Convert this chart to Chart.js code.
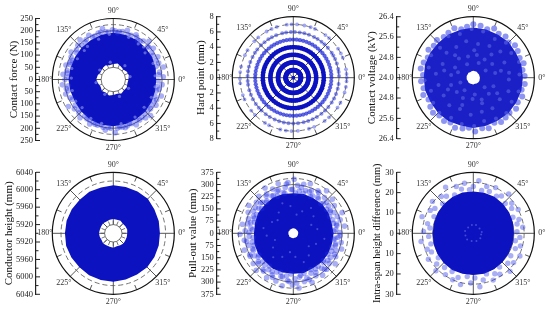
<!DOCTYPE html>
<html>
<head>
<meta charset="utf-8">
<style>
  html, body { margin: 0; padding: 0; background: #fff; width: 550px; height: 310px; overflow: hidden; }
  canvas { position: absolute; }
</style>
<script src="https://cdn.jsdelivr.net/npm/chart.js@4"></script>
</head>
<body>
<canvas id="c0" width="190" height="155" style="left:0;top:0"></canvas>
<canvas id="c1" width="190" height="155" style="left:180px;top:0"></canvas>
<canvas id="c2" width="190" height="155" style="left:360px;top:0"></canvas>
<canvas id="c3" width="190" height="155" style="left:0;top:155px"></canvas>
<canvas id="c4" width="190" height="155" style="left:180px;top:155px"></canvas>
<canvas id="c5" width="190" height="155" style="left:360px;top:155px"></canvas>
<script>
const AZUL = 'rgb(12,18,192)';
const DOT  = 'rgba(30,42,228,0.38)';
const GAP  = 'rgba(170,178,242,0.5)';

const spokeAngles = [0, 45, 90, 135, 180, 225, 270, 315];
const stubAngles  = [22.5, 67.5, 112.5, 157.5, 202.5, 247.5, 292.5, 337.5];
const labelAngles = ['0°', '45°', '90°', '135°', '180°', '225°', '270°', '315°'];
const bandAngles  = [0, 15, 30, 45, 60, 75, 90, 105, 120, 135, 150, 165, 180, 195, 210, 225, 240, 255, 270, 285, 300, 315, 330, 345];

// contact force
const forceTicks = [0, 50, 100, 150, 200, 250];
const forceOuter = [176, 180, 184, 186, 188, 190, 192, 190, 186, 184, 182, 182, 184, 182, 182, 186, 190, 192, 192, 190, 188, 186, 182, 178];
const forceInner = [62, 66, 64, 58, 62, 68, 64, 60, 66, 64, 60, 66, 70, 64, 60, 66, 62, 68, 64, 60, 66, 62, 64, 60];
const forceDotAng = [3, 9, 14, 20, 27, 31, 38, 42, 47, 52, 58, 63, 68, 74, 79, 85, 91, 96, 102, 108, 113, 119, 124, 130, 136, 141, 147, 152, 158, 163, 169, 174, 180, 186, 191, 197, 203, 211, 217, 224, 229, 236, 242, 248, 255, 261, 267, 272, 278, 284, 290, 297, 303, 310, 316, 322, 329, 335, 341, 348, 354];
const forceDotVal = [205, 192, 212, 198, 205, 190, 208, 196, 214, 200, 188, 206, 195, 210, 200, 192, 204, 196, 214, 200, 193, 207, 198, 212, 202, 194, 206, 196, 190, 203, 193, 207, 198, 210, 196, 204, 192, 215, 200, 196, 208, 194, 206, 198, 192, 210, 200, 218, 196, 204, 192, 208, 198, 206, 212, 194, 204, 196, 208, 192, 201];
const forceDot2Ang = [6, 17, 24, 35, 44, 55, 61, 72, 83, 88, 99, 105, 116, 127, 133, 144, 155, 161, 172, 177, 188, 194, 206, 214, 221, 232, 239, 245, 251, 258, 264, 275, 281, 287, 293, 300, 307, 313, 319, 326, 332, 338, 345, 351, 358];
const forceDot2Val = [186, 184, 190, 192, 196, 192, 198, 194, 198, 200, 198, 200, 194, 192, 190, 186, 186, 188, 190, 186, 186, 190, 186, 188, 186, 190, 192, 194, 198, 200, 198, 200, 198, 198, 196, 192, 194, 190, 188, 186, 186, 184, 182, 182, 184];
const forceGapAng = [5, 22, 40, 47, 55, 70, 95, 110, 128, 135, 150, 165, 178, 195, 210, 222, 240, 255, 280, 300, 318, 335, 350, 10, 50, 100, 145, 190, 240, 290, 330];
const forceGapVal = [172, 176, 170, 182, 178, 184, 186, 176, 172, 168, 170, 176, 172, 174, 178, 172, 184, 186, 184, 178, 170, 172, 174, 70, 74, 72, 68, 72, 70, 74, 72];

// hard point, values only land on whole millimetres
const hardTicks = [0, 2, 4, 6, 8];
const hardSolidRings = [1, 2, 3, 4];
const hardSolidAng = [0, 5, 10, 15, 20, 25, 30, 35, 40, 45, 50, 55, 60, 65, 70, 75, 80, 85, 90, 95, 100, 105, 110, 115, 120, 125, 130, 135, 140, 145, 150, 155, 160, 165, 170, 175, 180, 185, 190, 195, 200, 205, 210, 215, 220, 225, 230, 235, 240, 245, 250, 255, 260, 265, 270, 275, 280, 285, 290, 295, 300, 305, 310, 315, 320, 325, 330, 335, 340, 345, 350, 355];
const hard6Ang = [2, 7, 11, 18, 24, 29, 33, 41, 47, 52, 58, 63, 70, 76, 82, 88, 93, 99, 104, 112, 118, 123, 129, 135, 142, 147, 153, 160, 166, 172, 178, 184, 189, 196, 202, 208, 215, 221, 226, 233, 239, 246, 252, 258, 264, 270, 276, 283, 289, 295, 301, 308, 314, 320, 327, 333, 339, 346, 352];
const hard7Ang = [0, 4, 9, 22, 27, 33, 48, 53, 66, 71, 78, 86, 92, 97, 108, 114, 120, 131, 137, 149, 155, 168, 174, 181, 186, 199, 204, 218, 224, 238, 243, 256, 262, 268, 275, 287, 293, 306, 312, 326, 332, 344, 350, 356];

// contact voltage
const voltTicks = [24.0, 24.8, 25.6, 26.4];
const voltOuter = [25.95, 25.96, 25.94, 25.97, 25.95, 25.96, 25.98, 25.95, 25.96, 25.94, 25.96, 25.97, 25.95, 25.96, 25.94, 25.96, 25.97, 25.95, 25.98, 25.96, 25.94, 25.96, 25.95, 25.96];
const voltInner = [24.26, 24.27, 24.26, 24.25, 24.27, 24.26, 24.27, 24.26, 24.25, 24.27, 24.26, 24.26, 24.27, 24.26, 24.25, 24.27, 24.26, 24.26, 24.27, 24.25, 24.26, 24.27, 24.26, 24.26];
const voltDotAng = [2, 9, 16, 23, 31, 38, 45, 52, 60, 67, 74, 82, 90, 97, 104, 111, 119, 126, 134, 141, 148, 156, 163, 170, 177, 184, 192, 199, 206, 214, 221, 228, 236, 243, 250, 258, 265, 272, 280, 287, 295, 302, 309, 316, 324, 331, 339, 346, 353];
const voltDotVal = [26.02, 25.96, 26.06, 25.98, 26.04, 26.08, 25.96, 26.06, 26.0, 26.1, 25.98, 26.06, 26.1, 26.02, 25.96, 26.08, 26.02, 25.98, 26.06, 26.0, 26.08, 25.96, 26.04, 26.1, 25.98, 26.06, 26.0, 26.08, 25.96, 26.04, 26.1, 26.0, 26.06, 25.98, 26.1, 26.04, 25.98, 26.12, 26.02, 26.08, 25.96, 26.06, 26.02, 25.98, 26.08, 26.0, 26.06, 25.96, 26.04];
const voltGapAng = [4, 19, 33, 47, 61, 78, 92, 107, 121, 138, 152, 167, 183, 197, 212, 226, 241, 256, 271, 284, 299, 313, 328, 343, 8, 26, 44, 63, 82, 101, 119, 137, 156, 174, 192, 211, 229, 247, 266, 284, 302, 321, 339, 357, 12, 36, 58, 81, 104, 127, 151, 173, 198, 221, 243, 268, 291, 314, 337, 14, 52, 88, 129, 166, 205, 248, 289, 327, 30, 70, 115, 160, 200, 235, 275, 320];
const voltGapVal = [25.82, 25.9, 25.78, 25.88, 25.74, 25.86, 25.92, 25.8, 25.9, 25.76, 25.88, 25.8, 25.92, 25.74, 25.86, 25.92, 25.8, 25.88, 25.9, 25.76, 25.84, 25.9, 25.78, 25.86, 25.42, 25.36, 25.48, 25.4, 25.34, 25.46, 25.38, 25.44, 25.32, 25.48, 25.4, 25.36, 25.44, 25.34, 25.46, 25.38, 25.42, 25.34, 25.48, 25.4, 24.88, 24.92, 24.84, 24.9, 24.86, 24.94, 24.82, 24.88, 24.92, 24.86, 24.9, 24.84, 24.92, 24.88, 24.86, 25.12, 25.16, 25.08, 25.14, 25.18, 25.1, 25.16, 25.06, 25.12, 24.56, 24.62, 24.58, 24.64, 24.54, 24.6, 24.66, 24.58];

// conductor height, plot centre is 5900 mm
const heightTicks = [5920, 5960, 6000, 6040];
const heightOuter = [6007, 6008, 6009, 6012, 6011, 6010, 6010, 6009, 6010, 6009, 6010, 6011, 6011, 6012, 6011, 6010, 6011, 6011, 6011, 6010, 6009, 6010, 6009, 6008];
const heightInner = [5932, 5933, 5932, 5931, 5933, 5932, 5933, 5932, 5931, 5933, 5932, 5932, 5933, 5932, 5931, 5933, 5932, 5932, 5933, 5931, 5932, 5933, 5932, 5932];
const heightDotAng = [8, 15, 22, 27, 30, 36, 38, 44, 47, 52, 55, 58, 62, 70, 77, 200, 225, 238, 300, 330, 340, 120, 165];
const heightDotVal = [116, 120, 118, 124, 116, 120, 126, 118, 122, 120, 125, 116, 118, 117, 114, 114, 122, 116, 116, 114, 115, 114, 113];
const heightGapAng = [86, 90, 94, 100, 30, 60, 140, 170, 205, 230, 255, 285, 315, 350, 20, 110, 195, 265, 40, 150, 215, 295, 335];
const heightGapVal = [64, 66, 63, 62, 54, 46, 52, 44, 58, 46, 70, 62, 46, 44, 84, 88, 82, 86, 66, 70, 74, 78, 60];

// pull-out value
const pullTicks = [0, 75, 150, 225, 300, 375];
const pullOuter = [248, 244, 250, 252, 248, 250, 246, 250, 252, 248, 250, 244, 242, 248, 250, 246, 252, 250, 248, 252, 246, 250, 248, 246];
const pullInner = [30, 31, 30, 29, 31, 30, 31, 30, 29, 31, 30, 30, 31, 30, 29, 31, 30, 30, 31, 29, 30, 31, 30, 30];
const pullDotAng = [1, 5, 8, 12, 16, 19, 23, 27, 30, 34, 38, 41, 45, 49, 52, 56, 60, 63, 67, 71, 74, 78, 82, 85, 89, 93, 96, 100, 104, 107, 111, 115, 118, 122, 126, 129, 133, 137, 140, 144, 148, 151, 155, 159, 162, 166, 170, 173, 177, 181, 184, 188, 192, 195, 199, 203, 206, 210, 214, 217, 221, 225, 228, 232, 236, 239, 243, 247, 250, 254, 258, 261, 265, 269, 272, 276, 280, 283, 287, 291, 294, 298, 302, 305, 309, 313, 316, 320, 324, 327, 331, 335, 338, 342, 346, 349, 353, 357];
const pullDotVal = [286, 262, 318, 272, 300, 256, 326, 282, 262, 304, 274, 318, 260, 292, 332, 268, 302, 258, 286, 322, 274, 308, 262, 296, 332, 270, 314, 286, 258, 318, 276, 300, 262, 328, 284, 258, 310, 274, 296, 262, 322, 280, 306, 256, 290, 270, 318, 262, 296, 328, 272, 304, 258, 286, 318, 266, 298, 276, 260, 308, 284, 322, 262, 296, 270, 318, 286, 258, 312, 276, 330, 264, 298, 318, 280, 338, 262, 304, 286, 322, 268, 296, 258, 314, 276, 302, 260, 288, 318, 272, 298, 260, 284, 312, 268, 300, 258, 288];
const pullDot2Ang = [3, 10, 14, 21, 25, 32, 36, 43, 47, 54, 58, 65, 69, 76, 80, 87, 91, 98, 102, 109, 113, 120, 124, 131, 135, 142, 146, 153, 157, 164, 168, 175, 179, 186, 190, 197, 201, 208, 212, 219, 223, 230, 234, 241, 245, 252, 256, 263, 267, 274, 278, 285, 289, 296, 300, 307, 311, 318, 322, 329, 333, 340, 344, 351, 355];
const pullDot2Val = [250, 272, 254, 290, 246, 268, 252, 280, 248, 262, 296, 250, 274, 254, 286, 248, 270, 306, 252, 282, 248, 264, 292, 252, 270, 248, 282, 254, 266, 248, 286, 252, 272, 248, 292, 254, 268, 300, 250, 276, 254, 290, 248, 268, 300, 252, 276, 292, 250, 306, 272, 254, 300, 248, 278, 254, 292, 250, 270, 248, 284, 252, 270, 250, 276];
const pullGapAng = [10, 40, 68, 96, 125, 152, 185, 215, 245, 275, 305, 335, 25, 80, 140, 200, 260, 320, 55, 110, 170, 230, 290, 350];
const pullGapVal = [150, 162, 146, 168, 156, 148, 164, 152, 160, 146, 166, 154, 122, 116, 126, 120, 118, 124, 190, 196, 186, 192, 188, 194];

// intra-span height difference
const spanTicks = [0, 10, 20, 30];
const spanOuter = [20.0, 20.2, 20.4, 20.6, 20.8, 20.6, 20.5, 20.8, 20.6, 20.4, 20.2, 20.0, 20.0, 20.2, 20.4, 20.6, 20.8, 20.6, 20.5, 20.6, 20.4, 20.2, 20.0, 20.0];
const spanInner = [0, 0, 0, 0, 0, 0, 0, 0, 0, 0, 0, 0, 0, 0, 0, 0, 0, 0, 0, 0, 0, 0, 0, 0];
const spanDotAng = [2, 7, 12, 17, 22, 28, 33, 38, 43, 48, 53, 58, 64, 69, 74, 79, 84, 90, 95, 100, 105, 110, 116, 121, 126, 131, 136, 142, 147, 152, 157, 162, 168, 173, 178, 184, 189, 194, 199, 204, 210, 215, 220, 225, 230, 236, 241, 246, 251, 256, 262, 267, 272, 277, 282, 288, 293, 298, 303, 308, 314, 319, 324, 329, 334, 340, 345, 350, 355];
const spanDotVal = [21.5, 24.5, 22, 23.5, 21, 25, 22.5, 24, 21.5, 26, 23, 21.5, 25, 22, 24, 21.5, 26, 23, 21.5, 25, 22.5, 24.5, 21, 26.5, 22.5, 24, 21, 25.5, 22.5, 24, 21, 26.5, 23, 21.5, 24.5, 22, 26, 21.5, 24, 22.5, 25.5, 21, 23.5, 26, 22, 24.5, 21.5, 25, 23, 26, 21.5, 24.5, 22, 26.5, 23.5, 21, 25, 22.5, 24, 21, 26, 22.5, 24.5, 21.5, 25.5, 22, 24, 21, 23];
const spanGapAng = [8, 38, 72, 100, 132, 165, 195, 225, 258, 292, 325, 352];
const spanGapVal = [4.2, 3.9, 4.3, 4.1, 3.8, 4.2, 4.0, 4.3, 3.9, 4.1, 4.2, 3.9];

const panelTitles = ['Contact force (N)', 'Hard point (mm)', 'Contact voltage (kV)', 'Conductor height (mm)', 'Pull-out value (mm)', 'Intra-span height difference (mm)'];
const titleSizes  = [11, 11, 11, 11, 11, 10.3];

function polar(angles, values, base) {
  return angles.map((a, i) => {
    const t = a * Math.PI / 180;
    const r = values[i] - base;
    return { x: r * Math.cos(t), y: r * Math.sin(t) };
  });
}
function constante(angles, value, base) {
  return polar(angles, angles.map(() => value), base);
}
function banda(outer, inner, base, color) {
  const fuera = polar(bandAngles, outer, base);
  const dentro = polar(bandAngles, inner, base).reverse();
  const data = [...fuera, fuera[0], dentro[dentro.length - 1], ...dentro];
  return { data, showLine: true, fill: 'shape', borderWidth: 0, pointRadius: 0, backgroundColor: color, order: 5 };
}
function puntos(data, radius, color, order) {
  return { data, showLine: false, pointRadius: radius, pointBorderWidth: 0, backgroundColor: color, pointBackgroundColor: color, order };
}

const panels = [
  { cx: 113.3, cy: 79.5, titleX: 14, axisX: 36, base: 0, dec: 0, rmax: 250, ticks: forceTicks,
    solid: [50, 100, 150, 200], dashed: [225], from: 50, stubRing: 50,
    datasets: [
      puntos(polar(forceGapAng, forceGapVal, 0), 1.6, GAP, 1),
      puntos(polar(forceDotAng, forceDotVal, 0), 2.8, DOT, 2),
      puntos(polar(forceDot2Ang, forceDot2Val, 0), 2.8, DOT, 3),
      banda(forceOuter, forceInner, 0, AZUL)
    ] },
  { cx: 113.3, cy: 77.7, titleX: 21, axisX: 36.7, base: 0, dec: 0, rmax: 8, ticks: hardTicks,
    solid: [2, 4, 6], dashed: [7], from: 0, stubRing: null,
    datasets: [
      puntos([{ x: 0, y: 0 }], 2, AZUL, 1),
      ...hardSolidRings.map(v => puntos(constante(hardSolidAng, v, 0), 2.4, AZUL, 1)),
      puntos(constante(hardSolidAng, 5, 0), 2.1, 'rgba(22,32,215,0.7)', 2),
      puntos(constante(hard6Ang, 6, 0), 2, 'rgba(30,42,228,0.5)', 2),
      puntos(constante(hard7Ang, 7, 0), 1.9, 'rgba(30,42,228,0.42)', 2)
    ] },
  { cx: 113.3, cy: 77.7, titleX: 12, axisX: 36.7, base: 24, dec: 1, rmax: 2.4, ticks: voltTicks,
    solid: [], dashed: [], from: 0.3, stubRing: null,
    datasets: [
      puntos(polar(voltGapAng, voltGapVal, 24), 2, 'rgba(105,113,232,0.5)', 1),
      puntos(polar(voltDotAng, voltDotVal, 24), 3, 'rgba(30,42,228,0.5)', 2),
      banda(voltOuter, voltInner, 24, 'rgb(26,32,198)')
    ] },
  { cx: 113.3, cy: 78.3, titleX: 9, axisX: 36, base: 5900, dec: 0, rmax: 140, ticks: heightTicks,
    solid: [20], dashed: [120], from: 20, stubRing: 20,
    datasets: [
      puntos(polar(heightGapAng, heightGapVal, 5900), 1, 'rgba(120,128,235,0.5)', 1),
      puntos(polar(heightDotAng, heightDotVal, 5900), 2, DOT, 2),
      banda(heightOuter, heightInner, 5900, AZUL)
    ] },
  { cx: 113.3, cy: 78.3, titleX: 13, axisX: 36.7, base: 0, dec: 0, rmax: 375, ticks: pullTicks,
    solid: [300], dashed: [337.5], from: 40, stubRing: null,
    datasets: [
      puntos(polar(pullGapAng, pullGapVal, 0), 1.1, 'rgba(120,128,235,0.5)', 1),
      puntos(polar(pullDotAng, pullDotVal, 0), 2.8, DOT, 2),
      puntos(polar(pullDot2Ang, pullDot2Val, 0), 2.8, DOT, 3),
      banda(pullOuter, pullInner, 0, AZUL)
    ] },
  { cx: 113.3, cy: 78.3, titleX: 18, axisX: 36.7, base: 0, dec: 0, rmax: 30, ticks: spanTicks,
    solid: [20], dashed: [25], from: 0, stubRing: null,
    datasets: [
      puntos(polar(spanGapAng, spanGapVal, 0), 1, 'rgba(120,128,235,0.5)', 1),
      puntos(polar(spanDotAng, spanDotVal, 0), 2.7, DOT, 2),
      banda(spanOuter, spanInner, 0, AZUL)
    ] }
];

const R = 61;

function rejilla(p) {
  const radio = (c, v) => Math.abs(c.scales.y.getPixelForValue(v) - c.scales.y.getPixelForValue(0));
  const rayo = (ctx, ox, oy, a, r0, r1) => {
    const t = a * Math.PI / 180;
    ctx.beginPath();
    ctx.moveTo(ox + r0 * Math.cos(t), oy - r0 * Math.sin(t));
    ctx.lineTo(ox + r1 * Math.cos(t), oy - r1 * Math.sin(t));
    ctx.stroke();
  };
  return {
    id: 'rejilla',
    beforeDatasetsDraw(c) {
      const ctx = c.ctx;
      const ox = c.scales.x.getPixelForValue(0), oy = c.scales.y.getPixelForValue(0);
      const full = radio(c, p.rmax);
      ctx.save();
      ctx.strokeStyle = '#666';
      ctx.lineWidth = 0.9;
      p.solid.forEach(v => { ctx.beginPath(); ctx.arc(ox, oy, radio(c, v), 0, Math.PI * 2); ctx.stroke(); });
      ctx.setLineDash([5, 3]);
      p.dashed.forEach(v => { ctx.beginPath(); ctx.arc(ox, oy, radio(c, v), 0, Math.PI * 2); ctx.stroke(); });
      ctx.setLineDash([]);
      ctx.strokeStyle = '#555';
      ctx.lineWidth = 1;
      spokeAngles.forEach(a => rayo(ctx, ox, oy, a, radio(c, p.from), full));
      stubAngles.forEach(a => rayo(ctx, ox, oy, a, full - 5, full));
      if (p.stubRing !== null) {
        const r0 = radio(c, p.stubRing);
        ctx.lineWidth = 0.8;
        stubAngles.forEach(a => rayo(ctx, ox, oy, a, r0, r0 + 4));
        spokeAngles.forEach(a => rayo(ctx, ox, oy, a, r0, r0 + 4));
      }
      ctx.restore();
    },
    afterDatasetsDraw(c) {
      const ctx = c.ctx;
      const y = c.scales.y;
      const ox = c.scales.x.getPixelForValue(0), oy = y.getPixelForValue(0);
      ctx.save();
      ctx.strokeStyle = '#111';
      ctx.lineWidth = 1.2;
      ctx.beginPath();
      ctx.arc(ox, oy, radio(c, p.rmax), 0, Math.PI * 2);
      ctx.stroke();

      ctx.font = '8px "Liberation Serif"';
      ctx.fillStyle = '#333';
      ctx.textAlign = 'center';
      ctx.textBaseline = 'middle';
      spokeAngles.forEach((a, i) => {
        const t = a * Math.PI / 180;
        const d = a % 90 === 0 ? 68.5 : 70;
        ctx.fillText(labelAngles[i], ox + d * Math.cos(t), oy - d * Math.sin(t));
      });

      // los ticks van hacia adentro, Chart.js no deja largos por tick
      ctx.strokeStyle = '#222';
      ctx.lineWidth = 1;
      const left = c.chartArea.left;
      const vals = y.ticks.map(t => t.value).sort((a, b) => a - b);
      vals.forEach((v, i) => {
        const py = y.getPixelForValue(v);
        ctx.beginPath(); ctx.moveTo(left, py); ctx.lineTo(left + 4, py); ctx.stroke();
        if (i < vals.length - 1) {
          const my = y.getPixelForValue((v + vals[i + 1]) / 2);
          ctx.beginPath(); ctx.moveTo(left, my); ctx.lineTo(left + 2.5, my); ctx.stroke();
        }
      });
      ctx.restore();
    }
  };
}

panels.forEach((p, i) => {
  const offsets = p.ticks.map(t => t - p.base);
  const valores = [...new Set([...offsets, ...offsets.map(v => -v)])].sort((a, b) => a - b);
  const xMin = (p.axisX - p.cx) / R * p.rmax;

  new Chart(document.getElementById('c' + i), {
    type: 'scatter',
    data: { datasets: p.datasets },
    plugins: [rejilla(p)],
    options: {
      responsive: false,
      animation: false,
      events: [],
      layout: { padding: { left: p.titleX - 6.6, right: 190 - (p.cx + R), top: p.cy - R, bottom: 155 - (p.cy + R) } },
      plugins: { legend: { display: false }, tooltip: { enabled: false } },
      scales: {
        x: { display: false, min: xMin, max: p.rmax },
        y: {
          min: -p.rmax,
          max: p.rmax,
          grid: { display: false, drawTicks: false },
          border: { display: true, color: '#222', width: 1.2 },
          afterBuildTicks: s => { s.ticks = valores.slice().reverse().map(v => ({ value: v })); },
          afterFit: s => { s.width = p.axisX - p.titleX + 6.6; },
          ticks: {
            autoSkip: false,
            padding: 3,
            maxRotation: 0,
            color: '#222',
            font: { family: 'Liberation Serif', size: 8.5 },
            callback: v => (p.base + Math.abs(v)).toFixed(p.dec)
          },
          title: {
            display: true,
            text: panelTitles[i],
            color: '#111',
            padding: 0,
            font: { family: 'Liberation Serif', size: titleSizes[i] }
          }
        }
      }
    }
  });
});
</script>
</body>
</html>
